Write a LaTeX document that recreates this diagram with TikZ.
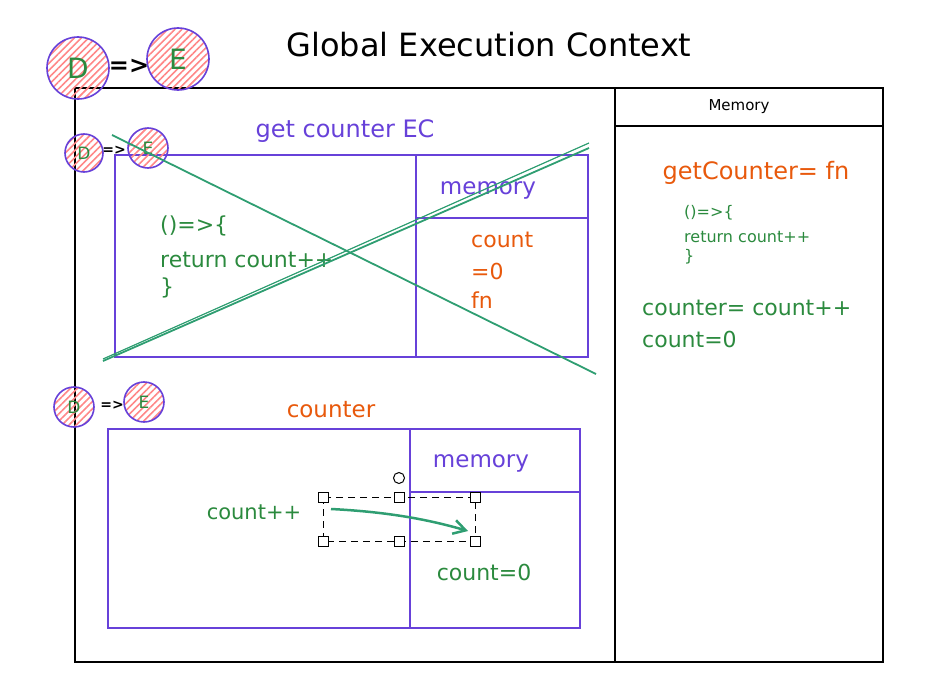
\documentclass[tikz,border=0pt]{standalone}
\usepackage{fontspec}
\setmainfont{DejaVu Sans}
\usetikzlibrary{patterns.meta,arrows.meta}

\definecolor{violet}{HTML}{6741D9}
\definecolor{leaf}{HTML}{2B8A3E}
\definecolor{sea}{HTML}{2F9E72}
\definecolor{rust}{HTML}{E8590C}
\definecolor{blush}{HTML}{FF8787}

\newcommand{\fs}[1]{\fontsize{#1}{#1}\selectfont}

\tikzset{
  badge/.style={circle, draw=violet, line width=1.6pt, text=leaf,
    pattern={Lines[angle=45,distance=5pt,line width=1.6pt]}, pattern color=blush, inner sep=0pt},
  frame/.style={draw=violet, line width=1.8pt},
  code/.style={text=leaf, anchor=west, inner sep=0pt},
  handle/.style={draw, fill=white, line width=1pt, minimum size=10pt, inner sep=0pt}
}

\begin{document}
\begin{tikzpicture}[x=1pt, y=-1pt]
      \useasboundingbox (0,0) rectangle (927,685);

      % global context
      \node (title) at (489,45) {\fs{32}Global Execution Context};
      \draw[line width=1.8pt] (75,88) rectangle (883,662);
      \draw[line width=1.8pt] (615,88) -- (615,662);
      \draw[line width=1.8pt] (615,126) -- (883,126);
      \node (memhead) at (739,107) {\fs{15}Memory};

      \node[badge, minimum size=62pt] (bigD) at (78,68) {\fs{28}D};
      \node[badge, minimum size=62pt] (bigE) at (178,59) {\fs{28}E};
      \node (bigarrow) at (129,66) {\fs{24}\textbf{=>}};

      % get counter EC
      \node[text=violet] (ecname) at (345,131) {\fs{24}get counter EC};
      \draw[frame] (115,155) rectangle (588,357);
      \draw[frame] (416,155) -- (416,357);
      \draw[frame] (416,218) -- (588,218);
      \node[text=violet] (ecmem) at (488,190) {\fs{23}memory};
      \node[code, text=rust] (ecc1) at (471,240) {\fs{22}count};
      \node[code, text=rust] (ecc2) at (471,271) {\fs{22}=0};
      \node[code, text=rust] (ecc3) at (471,300) {\fs{22}fn};
      \node[code] (fn1) at (160,226) {\fs{22}()=>\{};
      \node[code] (fn2) at (160,260) {\fs{22}return count++};
      \node[code] (fn3) at (160,288) {\fs{22}\}};
      \node[badge, minimum size=38pt] (smD) at (84,153) {\fs{17}D};
      \node[badge, minimum size=40pt] (smE) at (148,148) {\fs{17}E};
      \node (smarrow) at (114,150) {\fs{14}\textbf{=>}};

      \coordinate (x1) at (112,135);
      \coordinate (x2) at (596,374);
      \coordinate (x3) at (103,361);
      \coordinate (x4) at (589,148);
      \draw[sea, line width=1.8pt] (x1) -- (x2);
      \draw[sea, line width=1.8pt] (x3) -- (x4);
      \draw[sea, line width=1.2pt] ([yshift=2pt]x3) -- ([yshift=5pt]x4);

      % counter
      \node[badge, minimum size=40pt] (cnD) at (74,407) {\fs{17}D};
      \node[badge, minimum size=40pt] (cnE) at (144,402) {\fs{17}E};
      \node (cnarrow) at (112,405) {\fs{14}\textbf{=>}};
      \node[text=rust] (cnname) at (331,410) {\fs{23}counter};
      \draw[frame] (108,429) rectangle (580,628);
      \draw[frame] (410,429) -- (410,628);
      \draw[frame] (410,492) -- (580,492);
      \node[text=violet] (cnmem) at (481,463) {\fs{23}memory};
      \node[text=leaf] (inc) at (254,512) {\fs{21}count++};
      \node[text=leaf] (zero) at (484,572) {\fs{22}count=0};

      \draw[line width=1pt, dash pattern=on 7pt off 5pt] (323,497) rectangle (475,541);
      \foreach \hx/\hy [count=\i] in {323/497, 399/497, 475/497, 323/541, 399/541, 475/541}
        \node[handle] (h\i) at (\hx,\hy) {};
      \node[circle, draw, line width=1pt, minimum size=11pt, inner sep=0pt] (rot) at (399,478) {};

      \coordinate (from) at (331,509);
      \coordinate (to) at (468,531);
      \draw[->, sea, line width=2.5pt, >={Straight Barb[length=12pt,width=14pt]}]
        (from) .. controls (390,512) and (430,520) .. (to);

      % memory panel
      \node[text=rust] (getc) at (756,173) {\fs{24}getCounter= fn};
      \node[code, text=leaf] (m1) at (684,213) {\fs{16}()=>\{};
      \node[code, text=leaf] (m2) at (684,237) {\fs{16}return count++};
      \node[code, text=leaf] (m3) at (684,257) {\fs{16}\}};
      \node[code, text=leaf] (m4) at (642,308) {\fs{22}counter= count++};
      \node[code, text=leaf] (m5) at (642,339) {\fs{22}count=0};
    \end{tikzpicture}
\end{document}
